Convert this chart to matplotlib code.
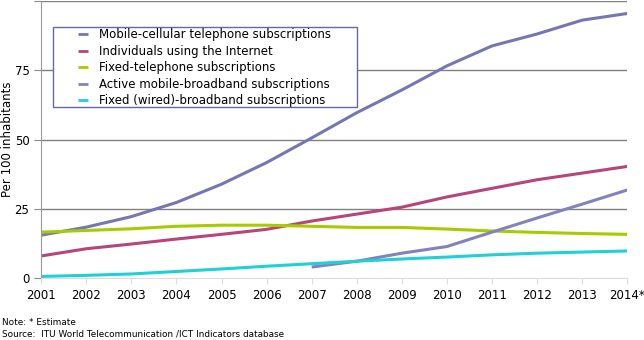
import numpy as np
import matplotlib.pyplot as plt
from matplotlib.patches import Rectangle

years = ['2001', '2002', '2003', '2004', '2005', '2006', '2007',
         '2008', '2009', '2010', '2011', '2012', '2013', '2014*']
mobile = [15.5, 18.4, 22.2, 27.3, 33.9, 41.7, 50.6, 59.7, 67.9, 76.6, 83.8, 88.1, 93.1, 95.5]
internet = [8.0, 10.6, 12.3, 14.1, 15.8, 17.6, 20.6, 23.1, 25.6, 29.3, 32.4, 35.5, 37.9, 40.3]
fixed_tel = [16.6, 17.2, 17.8, 18.7, 19.1, 19.1, 18.7, 18.3, 18.3, 17.7, 17.0, 16.5, 16.1, 15.8]
mbb = [None, None, None, None, None, None, 4.0, 6.1, 9.0, 11.4, 16.6, 21.7, 26.7, 31.8]
fixed_bb = [0.6, 1.0, 1.5, 2.4, 3.3, 4.3, 5.2, 6.1, 6.9, 7.6, 8.4, 9.0, 9.4, 9.8]

labels = ['Mobile-cellular telephone subscriptions', 'Individuals using the Internet',
          'Fixed-telephone subscriptions', 'Active mobile-broadband subscriptions',
          'Fixed (wired)-broadband subscriptions']
colors = ['#7676b2', '#b5457a', '#a6cc00', '#8282bd', '#1fd0d6']

fig = plt.figure(figsize=(6.44, 3.40), dpi=100)
ax = fig.add_axes([0.064, 0.182, 0.91, 0.815])
x = np.arange(len(years))
series = [mobile, internet, fixed_tel, mbb, fixed_bb]
for s, lab, c in zip(series, labels, colors):
    y = np.array([np.nan if v is None else v for v in s], dtype=float)
    ax.plot(x, y, color=c, lw=2.2, label=lab, solid_capstyle='butt')

ax.set_xlim(0, len(years) - 1)
ax.set_ylim(0, 100)
ax.set_yticks([0, 25, 50, 75, 100])
ax.set_yticklabels(['0', '25', '50', '75', ''])
ax.set_xticks(x)
ax.set_xticklabels(years)
for v in [25, 50, 75, 100]:
    ax.axhline(v, color='#808080', lw=1, zorder=0)
for sp in ['top', 'right']:
    ax.spines[sp].set_visible(False)
ax.spines['left'].set_color('#999999')
ax.spines['bottom'].set_color('#dddddd')
ax.tick_params(axis='x', colors='#dddddd', labelcolor='black', labelsize=8.5, length=4)
ax.tick_params(axis='y', colors='#888888', labelcolor='black', labelsize=8.5, length=5)
ax.set_ylabel('Per 100 inhabitants', fontsize=8.5)
ax.yaxis.set_label_coords(-0.046, 0.5)

# legend box drawn separately so the padding matches
ax.add_patch(Rectangle((0.0205, 0.617), 0.5185, 0.289, transform=ax.transAxes,
                       facecolor='white', edgecolor='#6666aa', lw=1, zorder=5))
leg = ax.legend(loc='upper left', bbox_to_anchor=(0.063, 0.902), fontsize=8.5,
                frameon=False, handlelength=0.85, handletextpad=0.95,
                borderpad=0, labelspacing=0.3, borderaxespad=0)
leg.set_zorder(6)
for h in leg.get_lines():
    h.set_linewidth(2)

fig.text(0.003, 0.045, 'Note: * Estimate', fontsize=6.4)
fig.text(0.003, 0.01, 'Source:  ITU World Telecommunication /ICT Indicators database', fontsize=6.4)

fig.savefig('out.png', dpi=100)
